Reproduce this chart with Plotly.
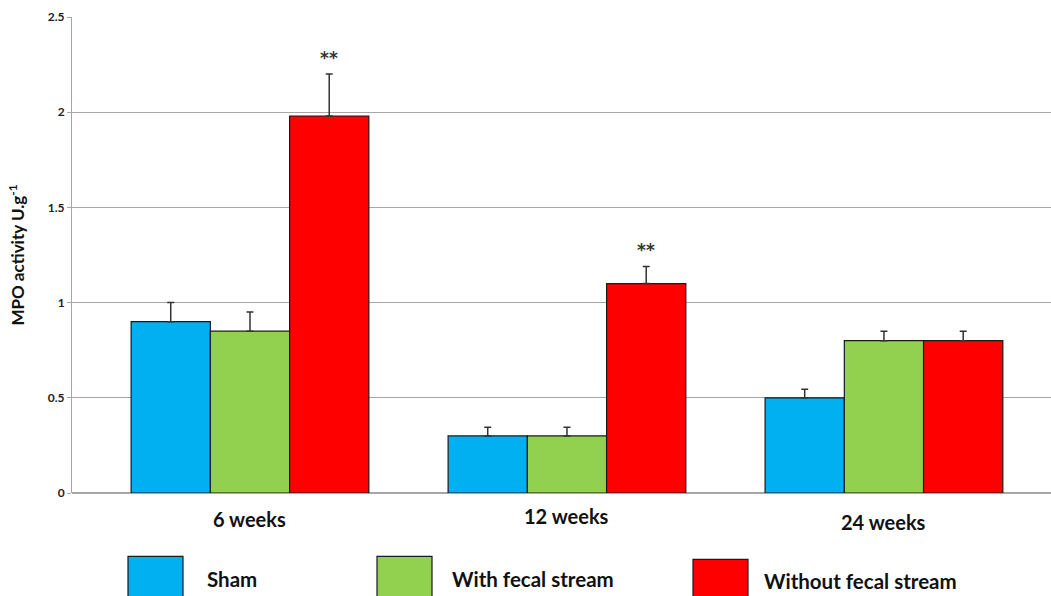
import plotly.graph_objects as go

# Data
periods = ["6 weeks", "12 weeks", "24 weeks"]
series_names = ["Sham", "With fecal stream", "Without fecal stream"]
sham = [0.90, 0.30, 0.50]
with_fecal = [0.85, 0.30, 0.80]
without_fecal = [1.98, 1.10, 0.80]
sham_err = [0.10, 0.045, 0.045]
with_fecal_err = [0.10, 0.045, 0.05]
without_fecal_err = [0.22, 0.09, 0.05]
significance = ["**", "**", ""]

colors = ["#00B0F0", "#92D050", "#FF0000"]
values = [sham, with_fecal, without_fecal]
errors = [sham_err, with_fecal_err, without_fecal_err]

W, H = 1051, 596
ML, MR, MT, MB = 72, 0, 16.5, 102.5
ph = H - MT - MB
pw = W - ML - MR

BARGAP = 0.25

fig = go.Figure()
xs = list(range(len(periods)))
for name, vals, errs, col in zip(series_names, values, errors, colors):
    fig.add_trace(go.Bar(
        x=xs, y=vals, name=name,
        marker=dict(color=col, line=dict(color="#1a1a1a", width=1.2)),
        error_y=dict(type="data", array=errs, symmetric=False,
                     arrayminus=[0] * len(errs),
                     color="#333333", thickness=1.5, width=3.5),
        showlegend=False,
    ))

# significance markers above the third bar of each group
slot = (1.0 - BARGAP) / 3
for i, s in enumerate(significance):
    if s:
        fig.add_annotation(
            x=i + slot, y=without_fecal[i] + without_fecal_err[i],
            xref="x", yref="y", text=s, showarrow=False,
            xanchor="center", yanchor="bottom", yshift=4,
            font=dict(family="DejaVu Sans", size=17, color="#333333", weight="bold"),
        )

# category labels (slightly staggered vertically)
label_y = [520, 517, 523]
for i, p in enumerate(periods):
    fig.add_annotation(
        x=i, xref="x", y=(H - MB - label_y[i]) / ph, yref="paper",
        text=p, showarrow=False, xanchor="center", yanchor="middle",
        font=dict(family="Lato", size=20, color="#111111", weight="bold"),
    )

# legend boxes and labels
legend_items = [
    (128, 183, 557, 600, 205, 580),
    (377, 432, 557, 600, 450, 580),
    (693, 748, 560, 600, 762, 582),
]
for (x0, x1, y0, y1, tx, ty), name, col in zip(legend_items, series_names, colors):
    fig.add_shape(
        type="rect", xref="paper", yref="paper",
        x0=(x0 - ML) / pw, x1=(x1 - ML) / pw,
        y0=(H - MB - y0) / ph, y1=(H - MB - y1) / ph,
        fillcolor=col, line=dict(color="#1a1a1a", width=1.2),
    )
    fig.add_annotation(
        x=(tx - ML) / pw, y=(H - MB - ty) / ph, xref="paper", yref="paper",
        text=name, showarrow=False, xanchor="left", yanchor="middle",
        font=dict(family="Lato", size=20.5, color="#111111", weight="bold"),
    )

fig.update_layout(
    width=W, height=H,
    margin=dict(l=ML, r=MR, t=MT, b=MB, pad=0),
    paper_bgcolor="white", plot_bgcolor="white",
    barmode="group", bargap=BARGAP, bargroupgap=0,
    xaxis=dict(
        range=[-0.5615, 2.527], showticklabels=False, ticks="",
        showgrid=False, zeroline=False, showline=False,
    ),
    yaxis=dict(
        range=[0, 2.5], dtick=0.5, tickformat="~g",
        showgrid=True, gridcolor="#a6a6a6", gridwidth=1,
        showline=True, linecolor="#a6a6a6", linewidth=1,
        zeroline=True, zerolinecolor="#a6a6a6", zerolinewidth=1.5,
        ticks="outside", ticklen=4, tickcolor="#a6a6a6",
        tickfont=dict(family="Lato", size=12, color="#222222", weight="bold"),
        title=dict(text="MPO activity U.g<sup>-1</sup>", standoff=18,
                   font=dict(family="Lato", size=17, color="#111111", weight="bold")),
    ),
    font=dict(family="Lato"),
)

fig.write_html("out.html")
